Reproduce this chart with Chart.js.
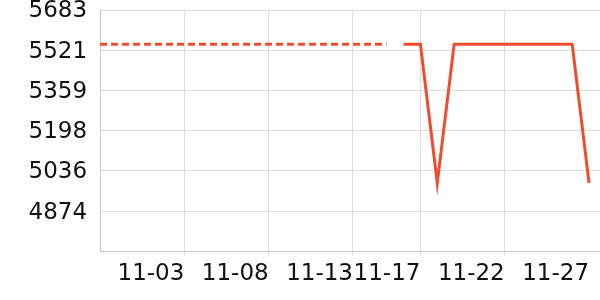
<!DOCTYPE html>
<html>
<head>
<meta charset="utf-8">
<script src="https://cdn.jsdelivr.net/npm/chart.js@4/dist/chart.umd.min.js"></script>
<style>
  html, body { margin: 0; padding: 0; background: #fff; }
  #wrap { width: 600px; height: 300px; }
</style>
</head>
<body>
<div id="wrap"><canvas id="c" width="600" height="300"></canvas></div>
<script>
// ---- data ----
const dateLabels = ['10-29','10-30','10-31','11-01','11-02','11-03','11-04','11-05','11-06','11-07',
                    '11-08','11-09','11-10','11-11','11-12','11-13','11-14','11-15','11-16','11-17',
                    '11-18','11-19','11-20','11-21','11-22','11-23','11-24','11-25','11-26','11-27'];
const dashedValues = [5545,5545,5545,5545,5545,5545,5545,5545,5545,5545,
                      5545,5545,5545,5545,5545,5545,5545,5545,null,null,
                      null,null,null,null,null,null,null,null,null,null];
const solidValues  = [null,null,null,null,null,null,null,null,null,null,
                      null,null,null,null,null,null,null,null,5545,5545,
                      4987,5545,5545,5545,5545,5545,5545,5545,5545,4987];
const xTickLabels = ['11-03','11-08','11-13','11-17','11-22','11-27'];
const yTickLabels = [4712, 4874, 5036, 5198, 5359, 5521, 5683];
const yMin = 4712, yMax = 5683;
const xMaxDay = 29.65;

const toPoints = vals => vals.map((v, i) => ({ x: i, y: v }));
const lineColor = '#ef4d2e';

new Chart(document.getElementById('c'), {
  type: 'line',
  data: {
    datasets: [
      { data: toPoints(dashedValues), borderColor: lineColor, borderWidth: 3,
        borderDash: [7, 4], pointRadius: 0, spanGaps: false, tension: 0 },
      { data: toPoints(solidValues), borderColor: lineColor, borderWidth: 3,
        pointRadius: 0, spanGaps: false, tension: 0 }
    ]
  },
  options: {
    responsive: false,
    animation: false,
    layout: { padding: { left: 15.5, right: 0, top: 0, bottom: 7 } },
    plugins: { legend: { display: false }, tooltip: { enabled: false } },
    scales: {
      x: {
        type: 'linear',
        min: 0,
        max: xMaxDay,
        afterBuildTicks: s => { s.ticks = xTickLabels.map(l => ({ value: dateLabels.indexOf(l) })); },
        ticks: {
          autoSkip: false,
          maxRotation: 0,
          align: 'end',
          padding: 5,
          color: '#111',
          font: { family: 'DejaVu Sans', size: 23 },
          callback: v => dateLabels[v]
        },
        grid: {
          color: ctx => (ctx.index === xTickLabels.length - 1 ? 'rgba(0,0,0,0)' : '#dddddd'),
          tickLength: 4, lineWidth: 1
        },
        border: { color: '#c8c8c8' }
      },
      y: {
        min: yMin,
        max: yMax,
        afterBuildTicks: s => { s.ticks = yTickLabels.map(v => ({ value: v })); },
        afterFit: s => { s.paddingTop = 10; s.paddingBottom = 0; },
        ticks: {
          padding: 13,
          labelOffset: 1.5,
          color: '#111',
          font: { family: 'DejaVu Sans', size: 23, lineHeight: 0.85 },
          callback: v => (v === yMin ? '' : String(v))
        },
        grid: { color: '#dddddd', drawTicks: false, lineWidth: 1 },
        border: { color: '#c8c8c8' }
      }
    }
  }
});
</script>
</body>
</html>
